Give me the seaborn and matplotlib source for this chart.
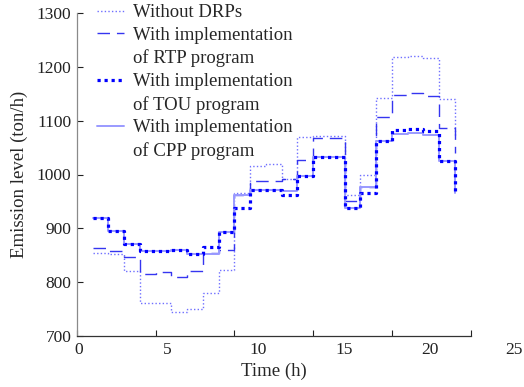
import numpy as np
import pandas as pd
import matplotlib
matplotlib.use('Agg')
import matplotlib.pyplot as plt
import matplotlib.transforms as mtransforms
from matplotlib.lines import Line2D
import seaborn as sns

# hourly emission levels (ton/h)
hours = list(range(1, 25))
without_drp = [855, 853, 821, 762, 762, 745, 751, 779, 822, 965, 1015, 1019,
               991, 1070, 1072, 1072, 962, 999, 1143, 1218, 1220, 1216, 1140, 1070]
rtp = [864, 857, 847, 815, 819, 809, 821, 855, 860, 962, 987, 988,
       991, 1027, 1068, 1068, 950, 977, 1107, 1148, 1152, 1145, 1086, 1040]
tou = [920, 895, 870, 857, 857, 859, 852, 865, 894, 937, 971, 971,
       962, 997, 1032, 1032, 937, 965, 1063, 1083, 1085, 1081, 1026, 965]
cpp = [920, 895, 870, 857, 857, 859, 852, 852, 894, 962, 971, 971,
       969, 997, 1032, 1032, 937, 977, 1063, 1076, 1077, 1073, 1026, 965]

x_ticks = [0, 5, 10, 15, 20, 25]
y_ticks = [700, 800, 900, 1000, 1100, 1200, 1300]

sns.set_style('ticks')
plt.rcParams['font.family'] = ['Liberation Serif', 'DejaVu Serif']

fig = plt.figure(figsize=(5.24, 3.87), dpi=100)
ax = fig.add_axes([77 / 524, 1 - 336 / 387, (470.5 - 77) / 524, (336 - 13) / 387])

df = pd.DataFrame({'hour': hours, 'without': without_drp, 'rtp': rtp,
                   'tou': tou, 'cpp': cpp})

# styles
st_without = dict(color='#6f6fff', lw=1.0, linestyle=(0, (1, 1.6)))
st_rtp = dict(color='#3535f0', lw=1.0, linestyle=(0, (9, 5)))
st_cpp = dict(color='#9a9aff', lw=1.4, linestyle='-')
st_tou = dict(color='#0000ff', lw=2.3, linestyle=(0, (1, 1.2)))

sns.lineplot(data=df, x='hour', y='without', ax=ax, drawstyle='steps-post', **st_without)
sns.lineplot(data=df, x='hour', y='rtp', ax=ax, drawstyle='steps-post', **st_rtp)
sns.lineplot(data=df, x='hour', y='cpp', ax=ax, drawstyle='steps-post', **st_cpp)
sns.lineplot(data=df, x='hour', y='tou', ax=ax, drawstyle='steps-post', **st_tou)

ax.set_xlim(0, 25)
ax.set_ylim(700, 1300)
ax.set_xticks(x_ticks)
ax.set_xticklabels([str(t) for t in x_ticks])
ax.set_yticks(y_ticks)
ax.set_yticklabels([str(t) for t in y_ticks])
ax.tick_params(direction='in', length=4, width=0.8, labelsize=12.5, pad=4,
               colors='#222222')

# tick labels in the reference drift right of their tick marks
shifts = [2, 12, 24, 31, 38, 43]
for lab, dx in zip(ax.get_xticklabels(), shifts):
    lab.set_transform(lab.get_transform() +
                      mtransforms.ScaledTranslation(dx / 100, 0, fig.dpi_scale_trans))

sns.despine(ax=ax)
ax.spines['left'].set_color('#8a8a8a')
ax.spines['bottom'].set_color('#333333')
ax.spines['left'].set_linewidth(0.9)
ax.spines['bottom'].set_linewidth(0.9)

ax.set_xlabel('Time (h)', fontsize=13.5, labelpad=4)
ax.set_ylabel('Emission level (ton/h)', fontsize=13.5, labelpad=6)

blank = Line2D([], [], color='none')
handles = [Line2D([], [], **st_without),
           Line2D([], [], **st_rtp), blank,
           Line2D([], [], **st_tou), blank,
           Line2D([], [], **st_cpp), blank]
labels = ['Without DRPs', 'With implementation', 'of RTP program',
          'With implementation', 'of TOU program',
          'With implementation', 'of CPP program']
fig.legend(handles, labels, loc='upper left',
           bbox_to_anchor=(97 / 524, 1 - 4 / 387), frameon=False,
           borderpad=0, borderaxespad=0, handlelength=1.45, handletextpad=0.45,
           labelspacing=0.3, fontsize=13.5)

fig.savefig('out.png', dpi=100)
